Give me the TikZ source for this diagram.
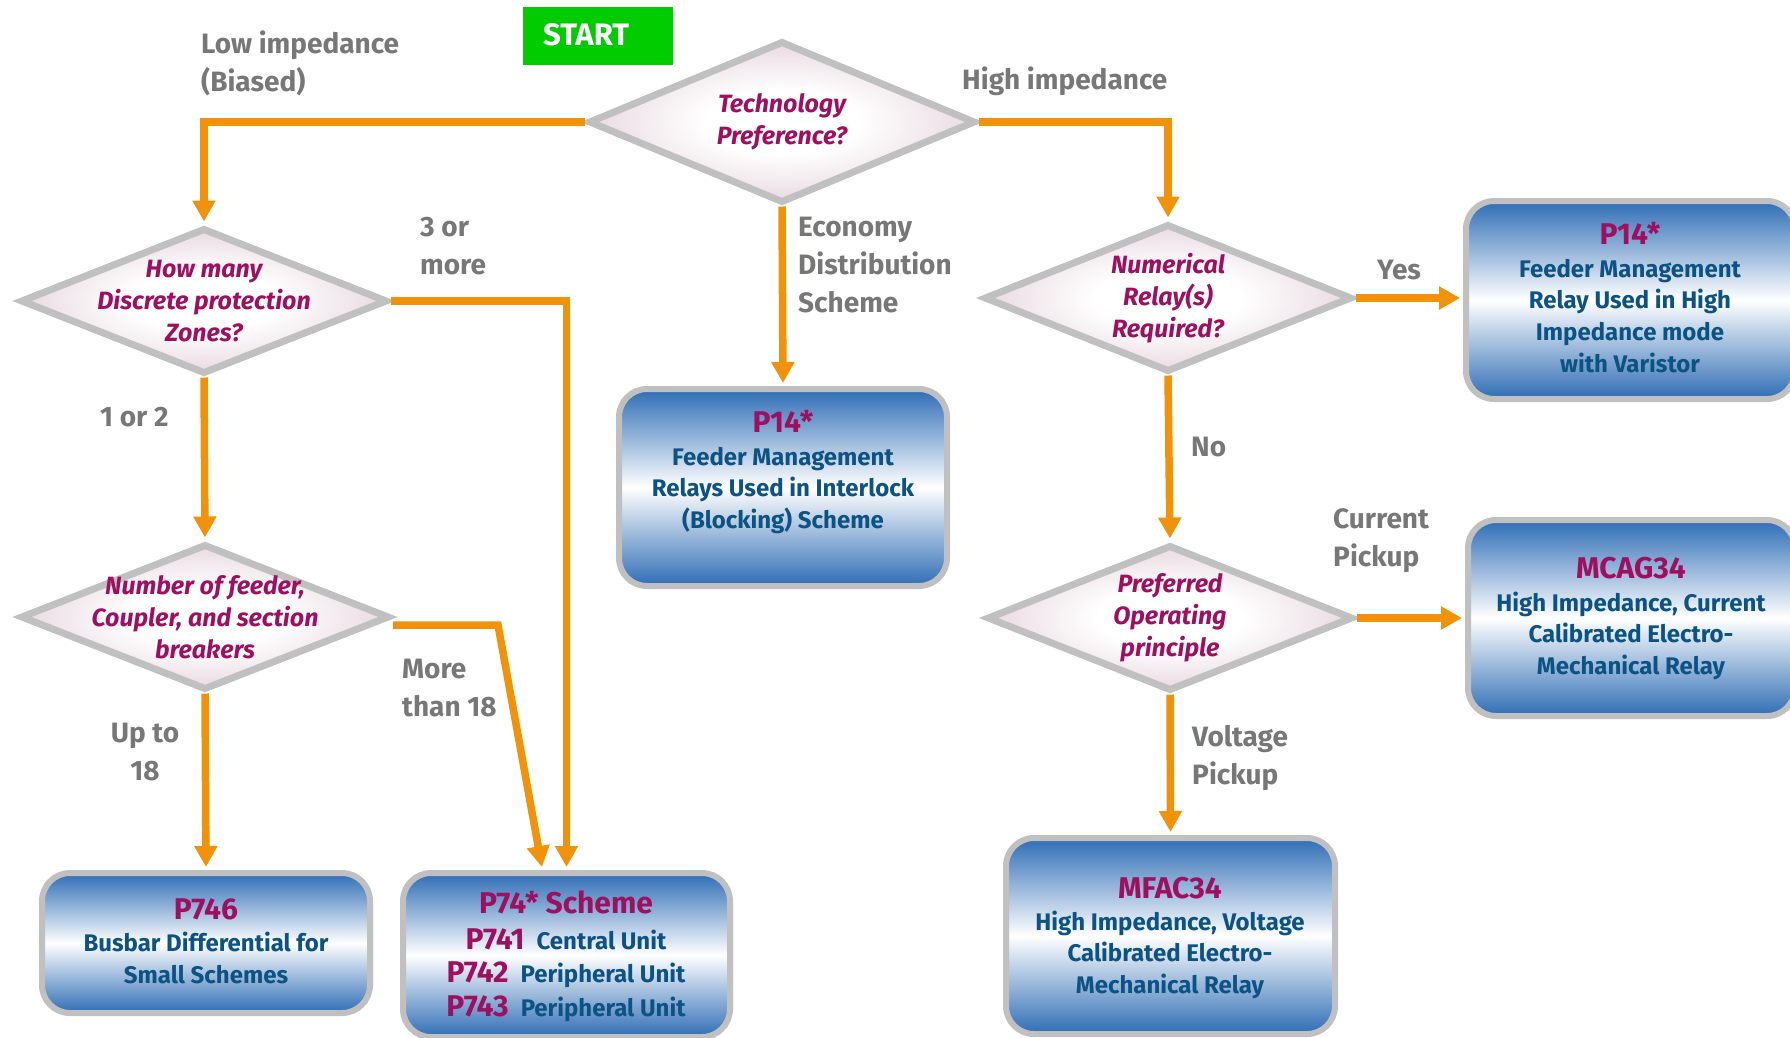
\documentclass[tikz,border=0pt]{standalone}
\usepackage{fontspec}
\setmainfont{Fira Sans}
\usetikzlibrary{shapes.geometric,arrows.meta}
\definecolor{orangeL}{HTML}{F0920A}
\definecolor{grayT}{HTML}{777777}
\definecolor{magT}{HTML}{9E0F5F}
\definecolor{blueT}{HTML}{0C5282}
\definecolor{boxblue}{HTML}{2F6DB5}
\definecolor{bord}{HTML}{C0C0C0}
\definecolor{diapink}{HTML}{C49CB0}
\definecolor{startg}{HTML}{00CC00}
\pgfdeclareradialshading{diashade}{\pgfpoint{0bp}{0bp}}{color(0bp)=(white); color(10bp)=(white); color(50bp)=(diapink)}
\newcommand\ttlf{\fontsize{30}{34}\selectfont\color{magT}}
\tikzset{
 decision/.style={diamond, draw=bord, line width=7pt, shading=diashade, inner sep=0pt},
 dtext/.style={font=\fontsize{25}{32}\selectfont\bfseries\itshape, text=magT, align=center, inner sep=0pt},
 result/.style={rectangle, rounded corners=28pt, draw=bord, line width=6pt, top color=boxblue, bottom color=boxblue, middle color=white, inner sep=0pt},
 rtext/.style={font=\fontsize{24}{31.7}\selectfont\bfseries, text=blueT, align=center, inner sep=0pt, anchor=north},
 lbl/.style={font=\fontsize{28}{38}\selectfont\bfseries, text=grayT, align=left, inner sep=0pt, anchor=north west},
 flow/.style={draw=orangeL, line width=7.5pt, -{Triangle[width=22pt,length=21pt]}, shorten >=3pt},
}
\begin{document}
\begin{tikzpicture}[x=1pt,y=-1pt]
\useasboundingbox (0,0) rectangle (1790,1037);
% start
\node[fill=startg, minimum width=150pt, minimum height=58pt, inner sep=0pt] (start) at (598,36) {};
\node[font=\fontsize{31}{34}\selectfont\bfseries, text=white, anchor=base west, inner sep=0pt] (starttxt) at (543,45) {START};
% decisions
\node[decision, minimum width=387pt, minimum height=162pt] (tech) at (782,122) {};
\node[decision, minimum width=367pt, minimum height=146pt] (how) at (204,301) {};
\node[decision, minimum width=368pt, minimum height=148pt] (num) at (1168,298) {};
\node[decision, minimum width=369pt, minimum height=146pt] (feeder) at (205,617) {};
\node[decision, minimum width=366pt, minimum height=146pt] (pref) at (1170,618) {};
\node[dtext] (techt) at (tech.center) {Technology\\Preference?};
\node[dtext] (howt) at (how.center) {How many\\Discrete protection\\Zones?};
\node[dtext] (numt) at (num.center) {Numerical\\Relay(s)\\Required?};
\node[dtext] (feedert) at (feeder.center) {Number of feeder,\\Coupler, and section\\breakers};
\node[dtext] (preft) at (pref.center) {Preferred\\Operating\\principle};
% results
\node[result, minimum width=328pt, minimum height=197pt] (p14mid) at (783,487.5) {};
\node[result, minimum width=329pt, minimum height=198pt] (p14r) at (1630.5,300) {};
\node[result, minimum width=327pt, minimum height=196pt] (mcag) at (1631.5,618) {};
\node[result, minimum width=329pt, minimum height=196pt] (mfac) at (1170.5,936) {};
\node[result, minimum width=328pt, minimum height=140pt] (p746) at (206,943) {};
\node[result, minimum width=327pt, minimum height=164pt] (p74) at (566.5,955) {};
\node[rtext] (p14midt) at (783,410) {{\ttlf P14*}\\[1pt]Feeder Management\\Relays Used in Interlock\\(Blocking) Scheme};
\node[rtext] (p14rt) at (1630,222) {{\ttlf P14*}\\[1pt]Feeder Management\\Relay Used in High\\Impedance mode\\with Varistor};
\node[rtext] (mcagt) at (1631,557) {{\ttlf MCAG34}\\[1pt]High Impedance, Current\\Calibrated Electro-\\Mechanical Relay};
\node[rtext] (mfact) at (1170,877) {{\ttlf MFAC34}\\High Impedance, Voltage\\Calibrated Electro-\\Mechanical Relay};
\node[rtext] (p746t) at (206,898) {{\ttlf P746}\\[1pt]Busbar Differential for\\Small Schemes};
\node[rtext, font=\fontsize{24}{33.5}\selectfont\bfseries] (p74t) at (566,891) {{\ttlf P74* Scheme}\\[2pt]{\ttlf P741}\hspace{12pt}Central Unit\\{\ttlf P742}\hspace{12pt}Peripheral Unit\\{\ttlf P743}\hspace{12pt}Peripheral Unit};
% labels
\node[lbl] (llow) at (201,31) {Low impedance\\(Biased)};
\node[lbl] (lhigh) at (962,67) {High impedance};
\node[lbl] (l3) at (420,217) {3 or\\more};
\node[lbl] (leco) at (798,217) {Economy\\Distribution\\Scheme};
\node[lbl] (lyes) at (1377,260) {Yes};
\node[lbl] (l12) at (100,407) {1 or 2};
\node[lbl] (lno) at (1191,437) {No};
\node[lbl] (lcur) at (1333,508) {Current\\Pickup};
\node[lbl] (lmore) at (402,659) {More\\than 18};
\node[lbl, align=center, anchor=north] (lup) at (145,723) {Up to\\18};
\node[lbl] (lvol) at (1192,725) {Voltage\\Pickup};
% connectors
\coordinate (fbend) at (498,625);
\draw[flow] (tech.west) -| (how.north);
\draw[flow] (tech.east) -| (num.north);
\draw[flow] (tech.south) -- (p14mid.north);
\draw[flow] (how.east) -| (p74.north);
\draw[flow] (how.south) -- (feeder.north);
\draw[flow] ([yshift=-8pt]feeder.east) -- (fbend) -- ([xshift=-24pt]p74.north);
\draw[flow] (feeder.south) -- (p746.north);
\draw[flow] (num.east) -- (num.east -| p14r.west);
\draw[flow] (num.south) -- (pref.north);
\draw[flow] (pref.east) -- (pref.east -| mcag.west);
\draw[flow] (pref.south) -- (mfac.north);
\end{tikzpicture}
\end{document}
